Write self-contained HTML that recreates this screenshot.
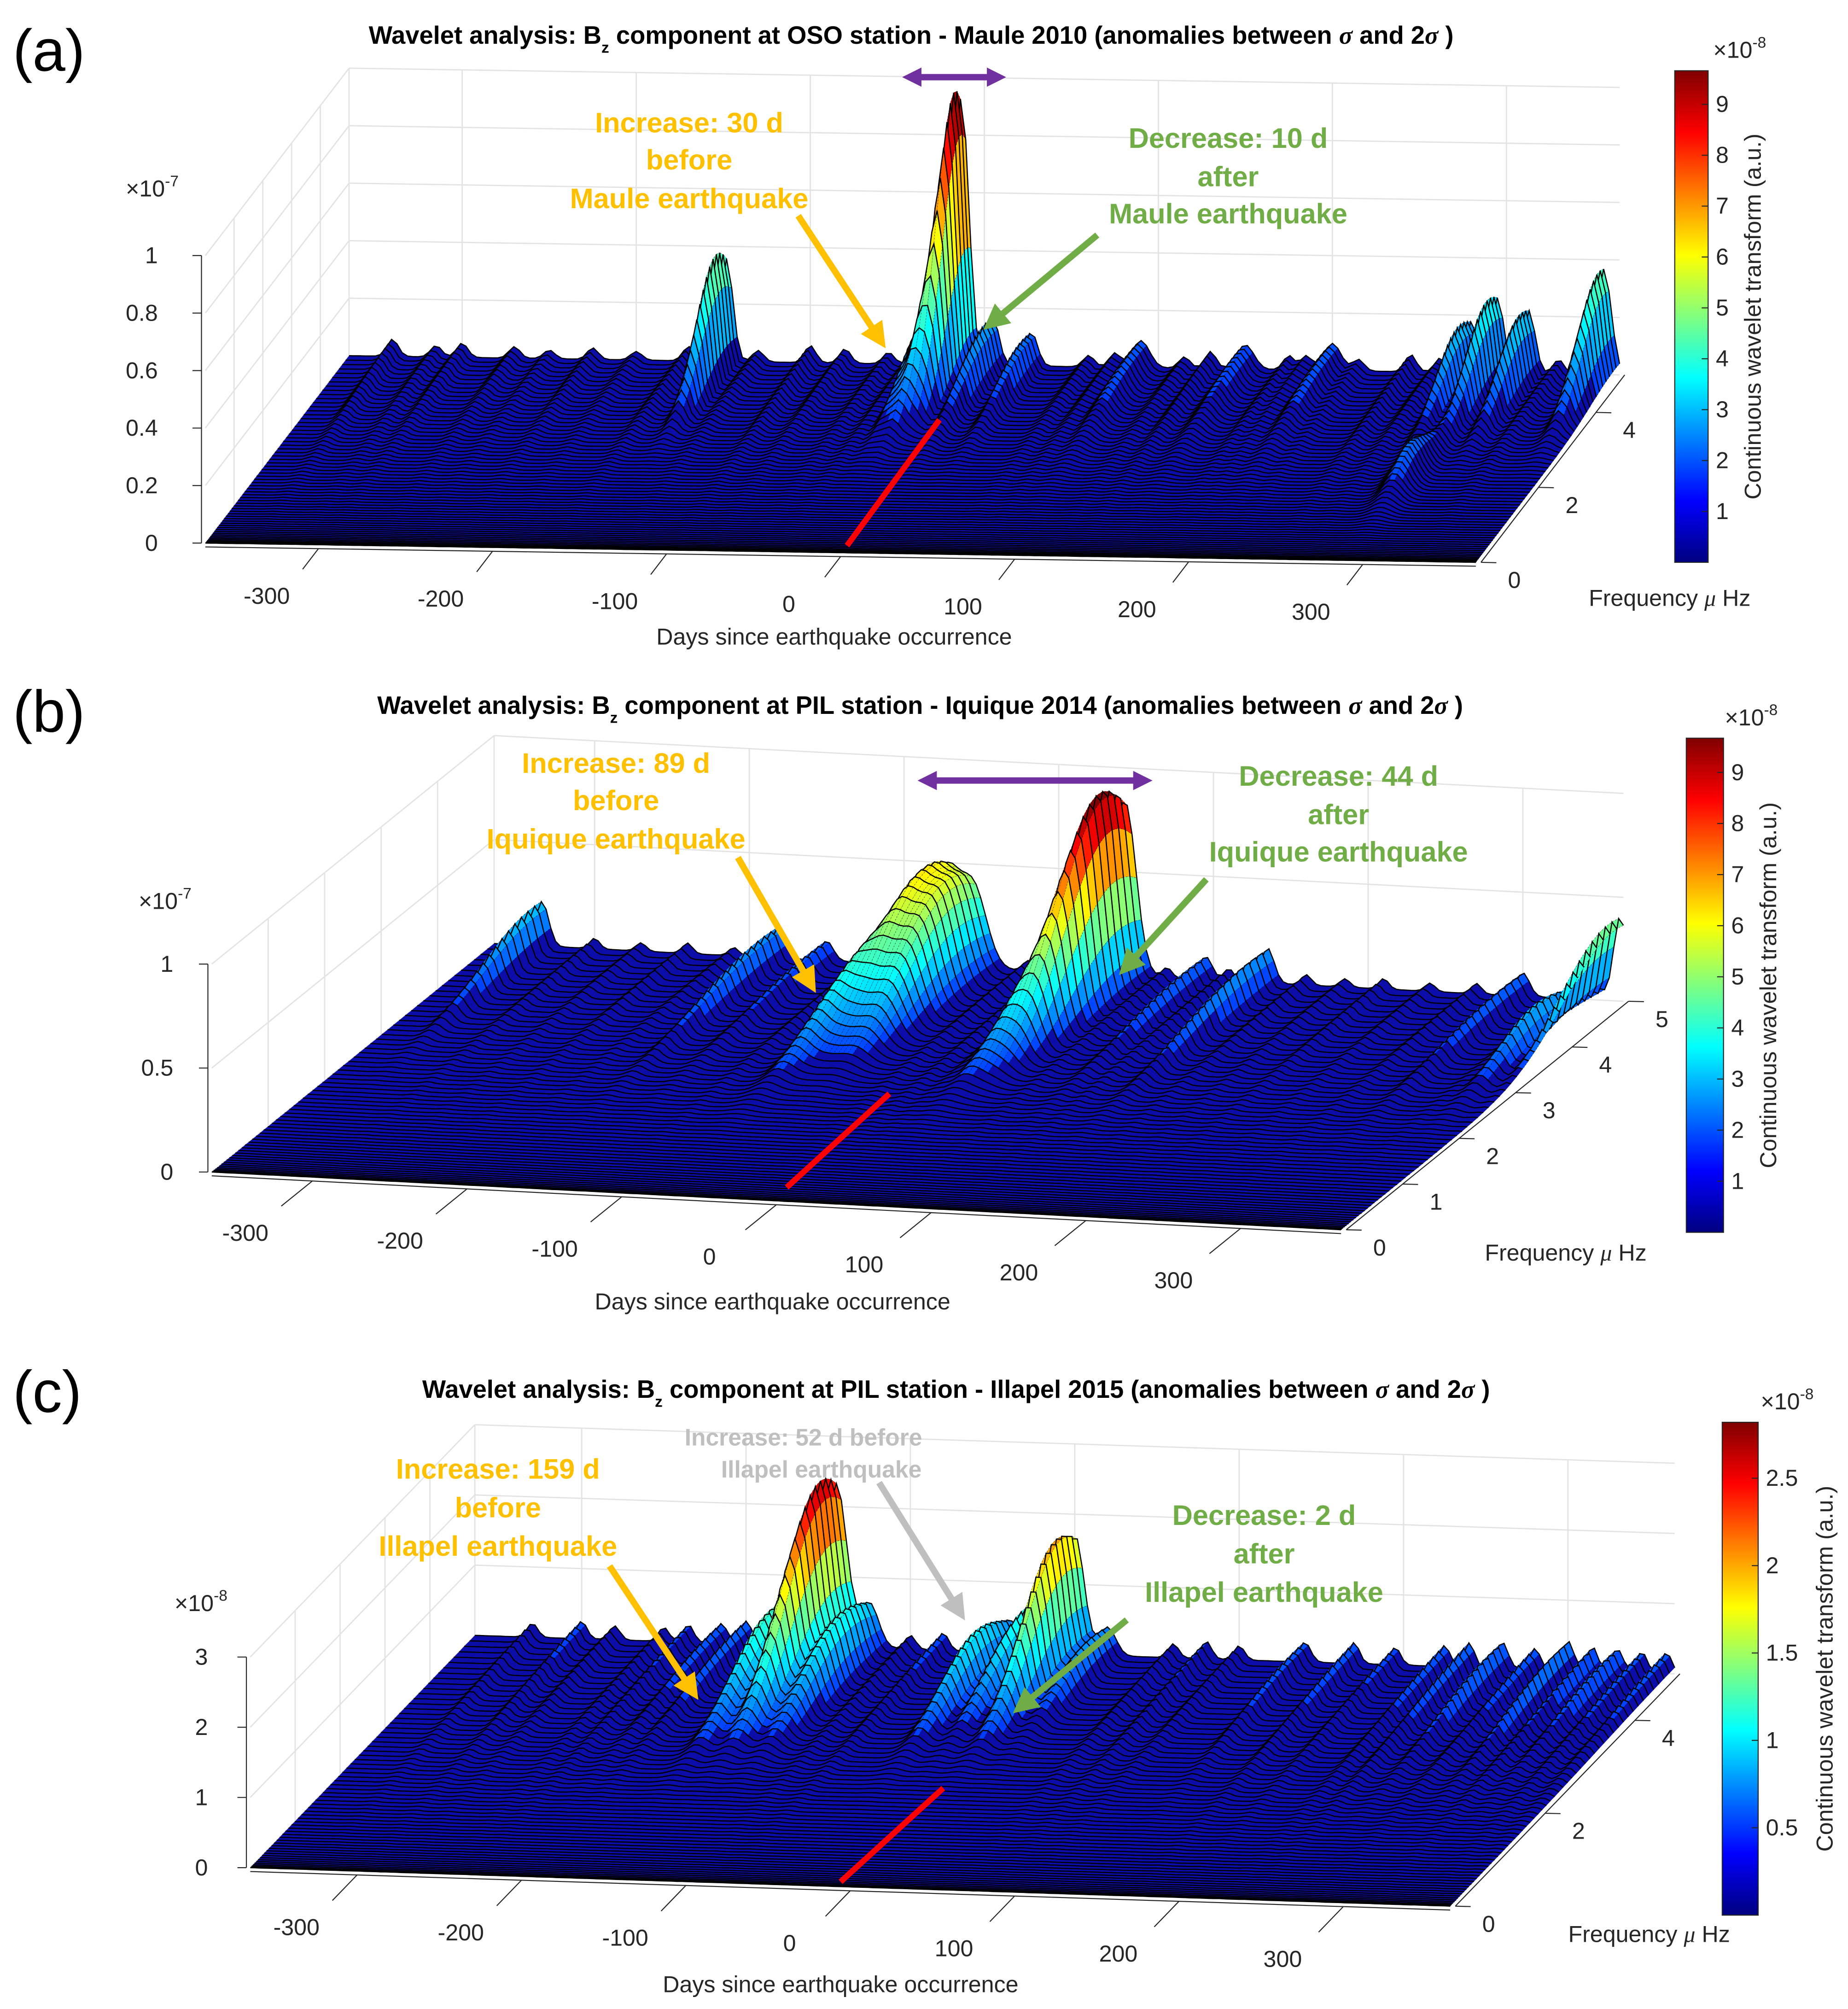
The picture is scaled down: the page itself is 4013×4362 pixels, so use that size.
<!DOCTYPE html>
<html><head><meta charset="utf-8">
<style>
html,body{margin:0;padding:0;background:#fff;}
svg{display:block;font-family:"Liberation Sans",Arial,sans-serif;}
.tk{font-size:18px;fill:#262626;}
.ttl{font-size:19.5px;font-weight:bold;fill:#000;}
.ann{font-size:22px;font-weight:bold;}
</style></head>
<body>
<svg id="fig" width="4013" height="4362" viewBox="0 0 1440 1565" xmlns="http://www.w3.org/2000/svg">
<defs>
<linearGradient id="jet" x1="0" y1="1" x2="0" y2="0">
<stop offset="0" stop-color="#000080"/><stop offset="0.125" stop-color="#0000ff"/>
<stop offset="0.375" stop-color="#00ffff"/><stop offset="0.625" stop-color="#ffff00"/>
<stop offset="0.875" stop-color="#ff0000"/><stop offset="1" stop-color="#800000"/>
</linearGradient>
<marker id="ahO" markerWidth="4" markerHeight="4" refX="2.5" refY="2" orient="auto" markerUnits="strokeWidth"><path d="M0,0 L4,2 L0,4 z" fill="#FFC000"/></marker>
<marker id="ahG" markerWidth="4" markerHeight="4" refX="2.5" refY="2" orient="auto" markerUnits="strokeWidth"><path d="M0,0 L4,2 L0,4 z" fill="#70AD47"/></marker>
<marker id="ahS" markerWidth="4" markerHeight="4" refX="2.5" refY="2" orient="auto" markerUnits="strokeWidth"><path d="M0,0 L4,2 L0,4 z" fill="#BFBFBF"/></marker>
<marker id="ahP" markerWidth="3" markerHeight="3" refX="2" refY="1.5" orient="auto-start-reverse" markerUnits="strokeWidth"><path d="M0,0 L3,1.5 L0,3 z" fill="#7030A0"/></marker>
</defs>
<g id="gridLayer"></g>
<g id="surfLayer"></g>
<g id="textLayer">
<text x="10" y="55" font-size="46">(a)</text>
<text x="10" y="570" font-size="46">(b)</text>
<text x="10" y="1100" font-size="46">(c)</text>
<text class="ttl" x="710" y="34" text-anchor="middle">Wavelet analysis: B<tspan font-size="12" dy="7">z</tspan><tspan dy="-7"> component at OSO station - Maule 2010 (anomalies between </tspan><tspan font-style="italic" font-family="Liberation Serif">σ</tspan> and 2<tspan font-style="italic" font-family="Liberation Serif">σ</tspan> )</text>
<text class="ttl" x="717" y="556" text-anchor="middle">Wavelet analysis: B<tspan font-size="12" dy="7">z</tspan><tspan dy="-7"> component at PIL station - Iquique 2014 (anomalies between </tspan><tspan font-style="italic" font-family="Liberation Serif">σ</tspan> and 2<tspan font-style="italic" font-family="Liberation Serif">σ</tspan> )</text>
<text class="ttl" x="745" y="1089" text-anchor="middle">Wavelet analysis: B<tspan font-size="12" dy="7">z</tspan><tspan dy="-7"> component at PIL station - Illapel 2015 (anomalies between </tspan><tspan font-style="italic" font-family="Liberation Serif">σ</tspan> and 2<tspan font-style="italic" font-family="Liberation Serif">σ</tspan> )</text>

<g fill="#FFC000" text-anchor="middle">
<text class="ann" x="537" y="103">Increase: 30 d</text><text class="ann" x="537" y="132">before</text><text class="ann" x="537" y="162">Maule earthquake</text></g>
<line x1="622" y1="168" x2="686" y2="265" stroke="#FFC000" stroke-width="5" marker-end="url(#ahO)"/>
<g fill="#70AD47" text-anchor="middle">
<text class="ann" x="957" y="115">Decrease: 10 d</text><text class="ann" x="957" y="145">after</text><text class="ann" x="957" y="174">Maule earthquake</text></g>
<line x1="855" y1="183" x2="772" y2="252" stroke="#70AD47" stroke-width="5" marker-end="url(#ahG)"/>
<line x1="708" y1="60" x2="779" y2="60" stroke="#7030A0" stroke-width="5" marker-start="url(#ahP)" marker-end="url(#ahP)"/>

<g fill="#FFC000" text-anchor="middle">
<text class="ann" x="480" y="602">Increase: 89 d</text><text class="ann" x="480" y="631">before</text><text class="ann" x="480" y="661">Iquique earthquake</text></g>
<line x1="575" y1="668" x2="632" y2="767" stroke="#FFC000" stroke-width="5" marker-end="url(#ahO)"/>
<g fill="#70AD47" text-anchor="middle">
<text class="ann" x="1043" y="612">Decrease: 44 d</text><text class="ann" x="1043" y="642">after</text><text class="ann" x="1043" y="671">Iquique earthquake</text></g>
<line x1="940" y1="685" x2="877" y2="754" stroke="#70AD47" stroke-width="5" marker-end="url(#ahG)"/>
<line x1="720" y1="608" x2="893" y2="608" stroke="#7030A0" stroke-width="5" marker-start="url(#ahP)" marker-end="url(#ahP)"/>

<g fill="#FFC000" text-anchor="middle">
<text class="ann" x="388" y="1152">Increase: 159 d</text><text class="ann" x="388" y="1182">before</text><text class="ann" x="388" y="1212">Illapel earthquake</text></g>
<line x1="475" y1="1220" x2="540" y2="1318" stroke="#FFC000" stroke-width="5" marker-end="url(#ahO)"/>
<g fill="#BFBFBF" text-anchor="middle">
<text x="626" y="1126" font-size="18.5" font-weight="bold">Increase: 52 d before</text><text x="640" y="1151" font-size="18.5" font-weight="bold">Illapel earthquake</text></g>
<line x1="685" y1="1155" x2="748" y2="1256" stroke="#BFBFBF" stroke-width="5" marker-end="url(#ahS)"/>
<g fill="#70AD47" text-anchor="middle">
<text class="ann" x="985" y="1188">Decrease: 2 d</text><text class="ann" x="985" y="1218">after</text><text class="ann" x="985" y="1248">Illapel earthquake</text></g>
<line x1="878" y1="1262" x2="795" y2="1330" stroke="#70AD47" stroke-width="5" marker-end="url(#ahG)"/>
</g>
<g id="overLayer"></g>
</svg>
<script>
// ===== data (values in axis units) =====
const peakDaysA   = [-13, -20, 5, 27, -148, 356, 295, 313, 280, 290, -28, 90, 150, 200];
const peakFreqA   = [4.8, 4.3, 4.6, 4.6, 4.6, 4.8, 4.6, 4.6, 4.5, 2.2, 4.6, 4.6, 4.6, 4.6];
const peakHeightA = [0.95, 0.25, 0.18, 0.13, 0.42, 0.38, 0.3, 0.25, 0.22, 0.12, 0.2, 0.1, 0.09, 0.1];
const rippleDaysA = [-340,-315,-300,-270,-250,-225,-200,-170,-130,-100,-80,-55,-40,60,75,115,130,175,185,215,245,262,330];
const rippleHeightA=[0.06,0.04,0.05,0.04,0.03,0.04,0.03,0.05,0.04,0.06,0.05,0.04,0.05,0.04,0.05,0.04,0.06,0.05,0.05,0.04,0.06,0.05,0.05];
const peakDaysB   = [43, 30, -73, -55, -88, -334, 363, 345, 300, -181, 135, -150, 95];
const peakFreqB   = [4.6, 4.0, 4.6, 4.5, 3.8, 4.8, 4.8, 4.0, 4.6, 4.6, 4.6, 4.6, 4.6];
const peakHeightB = [0.93, 0.3, 0.5, 0.45, 0.25, 0.22, 0.42, 0.2, 0.12, 0.16, 0.18, 0.1, 0.12];
const rippleDaysB = [-300,-270,-240,-210,-120,-20,0,15,70,110,160,185,210,240,270,330];
const rippleHeightB=[0.05,0.04,0.05,0.04,0.06,0.05,0.06,0.05,0.05,0.06,0.05,0.04,0.05,0.04,0.05,0.04];
const peakDaysC   = [-145, -165, -125, 0, -40, -20, 20, -200, -215, 140, 260, 300, 330];
const peakFreqC   = [4.6, 4.2, 4.3, 4.6, 4.2, 4.5, 4.5, 4.6, 4.6, 4.6, 4.6, 4.6, 4.6];
const peakHeightC = [2.6, 1.0, 0.9, 1.95, 0.8, 0.9, 0.5, 0.35, 0.3, 0.3, 0.4, 0.45, 0.35];
const rippleDaysC = [-330,-300,-280,-250,-235,-100,-80,60,80,100,170,195,225,240,280,315,345,360];
const rippleHeightC=[0.2,0.25,0.2,0.2,0.25,0.2,0.25,0.2,0.25,0.2,0.3,0.25,0.3,0.35,0.3,0.35,0.3,0.3];

const dayTicks = [-300,-200,-100,0,100,200,300];
const dayTickLabels = ["-300","-200","-100","0","100","200","300"];
const zTicksA = [0,0.2,0.4,0.6,0.8,1], zTickLabelsA = ["0","0.2","0.4","0.6","0.8","1"];
const zTicksB = [0,0.5,1], zTickLabelsB = ["0","0.5","1"];
const zTicksC = [0,1,2,3], zTickLabelsC = ["0","1","2","3"];
const fTicksA = [0,2,4], fTicksB = [0,1,2,3,4,5], fTicksC = [0,2,4];
const cbTicksA = [1,2,3,4,5,6,7,8,9], cbTicksB = [1,2,3,4,5,6,7,8,9];
const cbTicksC = [0.5,1,1.5,2,2.5], cbTickLabelsC = ["0.5","1","1.5","2","2.5"];

// ===== layout =====
const NS = "http://www.w3.org/2000/svg";
const panels = [
 {id:"a", ox:160, oy:423, exx:990/730, exy:15/730, eyx:22.4, eyy:-29.2, ez:224, fmax:5, zTop:1, cmax:0.966,
  days:peakDaysA, freq:peakFreqA, hts:peakHeightA, rd:rippleDaysA, rh:rippleHeightA,
  zt:zTicksA, ztl:zTickLabelsA, ft:fTicksA, zlabX:123, mult:"×10", multExp:"-7", multX:98, multY:153,
  cb:{x:1305,y:55,w:26,h:383,max:9.66,ticks:cbTicksA,labels:cbTicksA.map(String),lab:1372},
  freqLab:[1238,472], daysLab:[650,502], wd:[6,5,5,5,5,6,5,5,5,8,5,7,7,7], wf:[0.9,1.1,1.3,1.3,1.0,1.1,1.1,1.1,1.1,0.8,1.3,1.7,1.7,1.7]},
 {id:"b", ox:165, oy:913, exx:880/730, exy:45/730, eyx:44, eyy:-35.6, ez:162, fmax:5, zTop:1, cmax:0.967,
  days:peakDaysB, freq:peakFreqB, hts:peakHeightB, rd:rippleDaysB, rh:rippleHeightB,
  zt:zTicksB, ztl:zTickLabelsB, ft:fTicksB, zlabX:135, mult:"×10", multExp:"-7", multX:108, multY:708,
  cb:{x:1314,y:575,w:29,h:385,max:9.67,ticks:cbTicksB,labels:cbTicksB.map(String),lab:1384},
  freqLab:[1157,982], daysLab:[602,1020], wd:[10,10,12,12,10,6,6,8,6,6,6,6,6], wf:[1.1,1.2,1.2,1.2,1.2,1.3,1.2,1.0,1.6,1.6,1.6,1.6,1.6]},
 {id:"c", ox:195, oy:1455, exx:935/730, exy:30/730, eyx:35, eyy:-36.2, ez:54.7, fmax:5, zTop:3, cmax:2.82,
  days:peakDaysC, freq:peakFreqC, hts:peakHeightC, rd:rippleDaysC, rh:rippleHeightC,
  zt:zTicksC, ztl:zTickLabelsC, ft:fTicksC, zlabX:162, mult:"×10", multExp:"-8", multX:136, multY:1255,
  cb:{x:1342,y:1108,w:28,h:384,max:2.82,ticks:cbTicksC,labels:cbTickLabelsC,lab:1428},
  freqLab:[1222,1513], daysLab:[655,1552], wd:[9,8,8,8,8,7,7,5,5,5,5,5,5], wf:[1.2,1.2,1.2,1.1,1.1,1.1,1.1,1.6,1.6,1.6,1.6,1.6,1.6]}
];

function jet(t){
  t=Math.max(0,Math.min(1,t));
  const c=v=>Math.round(255*Math.max(0,Math.min(1,v)));
  return "rgb("+c(1.5-Math.abs(4*t-3))+","+c(1.5-Math.abs(4*t-2))+","+c(1.5-Math.abs(4*t-1))+")";
}
function P(p,d,f,z){ return [p.ox+(d+365)*p.exx+f*p.eyx, p.oy+(d+365)*p.exy+f*p.eyy-z*p.ez]; }
function H(p,d,f){
  let z=0;
  for(let k=0;k<p.days.length;k++){
    const a=(d-p.days[k])/p.wd[k], b=(f-p.freq[k])/p.wf[k];
    z+=p.hts[k]*Math.exp(-a*a-b*b);
  }
  for(let k=0;k<p.rd.length;k++){
    const a=(d-p.rd[k])/4.5, b=(f-p.fmax)/2.2;
    z+=p.rh[k]*Math.exp(-a*a-b*b);
  }
  return z;
}
function mk(tag,attrs,parent){ const e=document.createElementNS(NS,tag); for(const k in attrs) e.setAttribute(k,attrs[k]); parent.appendChild(e); return e; }
const grid=document.getElementById("gridLayer"), surf=document.getElementById("surfLayer"), over=document.getElementById("overLayer");
const pts=a=>a.map(q=>q[0].toFixed(1)+","+q[1].toFixed(1)).join(" ");

panels.forEach(p=>{
  const g=mk("g",{},grid);
  
  
  const gc="#e3e3e3";
  for(let d=-300; d<=300; d+=100){ const a=P(p,d,p.fmax,0), b=P(p,d,p.fmax,p.zTop); mk("line",{x1:a[0],y1:a[1],x2:b[0],y2:b[1],stroke:gc,"stroke-width":1},g); }
  p.zt.forEach(z=>{ const a=P(p,-365,p.fmax,z), b=P(p,365,p.fmax,z); mk("line",{x1:a[0],y1:a[1],x2:b[0],y2:b[1],stroke:gc,"stroke-width":1},g);
    const c=P(p,-365,0,z); mk("line",{x1:c[0],y1:c[1],x2:a[0],y2:a[1],stroke:gc,"stroke-width":1},g); });
  for(let f=1;f<p.fmax;f++){ const a=P(p,-365,f,0), b=P(p,-365,f,p.zTop); mk("line",{x1:a[0],y1:a[1],x2:b[0],y2:b[1],stroke:gc,"stroke-width":1},g); }
  const t1=P(p,-365,p.fmax,0), t2=P(p,-365,p.fmax,p.zTop);
  mk("line",{x1:t1[0],y1:t1[1],x2:t2[0],y2:t2[1],stroke:gc},g);
  const z0=P(p,-365,0,0), z1=P(p,-365,0,p.zTop);
  mk("line",{x1:z0[0]-3,y1:z0[1],x2:z1[0]-3,y2:z1[1],stroke:"#262626","stroke-width":0.8},g);
  p.zt.forEach((z,i)=>{ const q=P(p,-365,0,z);
    mk("line",{x1:q[0]-10,y1:q[1],x2:q[0]-3,y2:q[1],stroke:"#262626","stroke-width":0.8},g);
    const t=mk("text",{x:p.zlabX,y:q[1]+6,"text-anchor":"end",class:"tk"},over); t.textContent=p.ztl[i];
    
     });
  const m=mk("text",{x:p.multX,y:p.multY,class:"tk"},over); m.textContent=p.mult;
  
  
  const ms=mk("tspan",{dy:-8,"font-size":12},m); ms.textContent=p.multExp;
  dayTicks.forEach((d,i)=>{ const q=P(p,d,0,0); const r=[q[0]-p.eyx*0.55,q[1]-p.eyy*0.55];
    mk("line",{x1:q[0],y1:q[1]+3,x2:r[0],y2:r[1]+3,stroke:"#262626","stroke-width":0.8},g);
    const t=mk("text",{x:r[0]-28,y:r[1]+30,"text-anchor":"middle",class:"tk"},over); t.textContent=dayTickLabels[i];
    
     });
  const fa=P(p,-365,0,0), fb=P(p,365,0,0);
  mk("line",{x1:fa[0],y1:fa[1]+3,x2:fb[0],y2:fb[1]+3,stroke:"#262626","stroke-width":0.8},g);
  const dl=mk("text",{x:p.daysLab[0],y:p.daysLab[1],"text-anchor":"middle",class:"tk","font-size":21},over); dl.textContent="Days since earthquake occurrence";
  
  
  const ga=P(p,365,0,0), gb=P(p,365,p.fmax,0);
  mk("line",{x1:ga[0]+4,y1:ga[1],x2:gb[0]+4,y2:gb[1],stroke:"#262626","stroke-width":0.8},g);
  p.ft.forEach(f=>{ const q=P(p,365,f,0); mk("line",{x1:q[0]+4,y1:q[1],x2:q[0]+16,y2:q[1]+0.3,stroke:"#262626","stroke-width":0.8},g);
    const t=mk("text",{x:q[0]+30,y:q[1]+20,"text-anchor":"middle",class:"tk"},over); t.textContent=String(f);
    
     });
  const flb=mk("text",{x:p.freqLab[0],y:p.freqLab[1],class:"tk","font-size":21},over);
  flb.textContent="Frequency ";
  
  
  const mu=mk("tspan",{"font-style":"italic","font-family":"Liberation Serif"},flb); mu.textContent="μ";
  const hz=mk("tspan",{},flb); hz.textContent=" Hz";

  const sg=mk("g",{},surf);
  
  
  const nf=62, nd=240;
  const F=[]; for(let i=0;i<nf;i++) F.push(p.fmax*Math.pow(i/(nf-1),1.45));
  const D=[]; for(let j=0;j<nd;j++) D.push(-365+730*j/(nd-1));
  const Z=F.map(f=>D.map(d=>H(p,d,f)));
  const R=F.map((f,i)=>D.map((d,j)=>P(p,d,f,Z[i][j])));
  for(let i=nf-2;i>=0;i--){
    const back=R[i+1], front=R[i];
    mk("polygon",{points:pts(back.concat(front.slice().reverse())),fill:"#0c0ca8",stroke:"none"},sg);
    for(let j=0;j<nd-1;j++){
      const zm=(Z[i][j]+Z[i][j+1]+Z[i+1][j]+Z[i+1][j+1])/4;
      const t=zm/p.cmax;
      if(t>0.07){
        mk("polygon",{points:pts([back[j],back[j+1],front[j+1],front[j]]),fill:jet(0.12+t*0.9),stroke:"#000","stroke-width":0.25,"stroke-dasharray":"0.8 1.6"},sg);
      }
    }
    mk("polyline",{points:pts(back),fill:"none",stroke:"#000","stroke-width":0.9},sg);
  }
  mk("polyline",{points:pts(R[0]),fill:"none",stroke:"#000","stroke-width":0.9},sg);

  const cb=p.cb;
  const cg=mk("g",{},over);
  
  
  mk("rect",{x:cb.x,y:cb.y,width:cb.w,height:cb.h,fill:"url(#jet)",stroke:"#262626","stroke-width":0.8},cg);
  cb.ticks.forEach((v,i)=>{ const y=cb.y+cb.h*(1-v/cb.max);
    mk("line",{x1:cb.x+cb.w-5,y1:y,x2:cb.x+cb.w,y2:y,stroke:"#262626","stroke-width":0.8},cg);
    const t=mk("text",{x:cb.x+cb.w+6,y:y+6,class:"tk"},cg); t.textContent=cb.labels[i]; });
  const cm=mk("text",{x:cb.x+30,y:cb.y-10,class:"tk"},cg); cm.textContent="×10";
  const ce=mk("tspan",{dy:-8,"font-size":12},cm); ce.textContent="-8";
  const cl=mk("text",{x:cb.lab,y:cb.y+cb.h/2,"text-anchor":"middle",class:"tk","font-size":20.5,transform:"rotate(-90 "+cb.lab+" "+(cb.y+cb.h/2)+")"},cg);
  cl.textContent="Continuous wavelet transform (a.u.)";
});

[[660,425,732,327],[613,925,693,852],[655,1466,735,1393]].forEach((l,i)=>{
  const e=mk("line",{x1:l[0],y1:l[1],x2:l[2],y2:l[3],stroke:"#FF0000","stroke-width":4.5},over);
  
  
});
</script>
</body></html>
